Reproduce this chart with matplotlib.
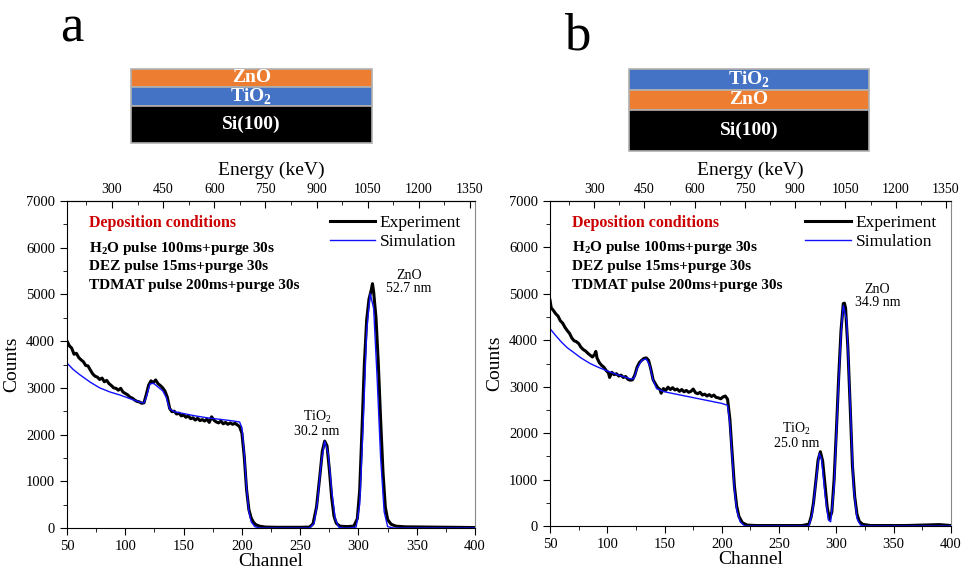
import matplotlib
matplotlib.use("Agg")
from matplotlib import pyplot as plt
from matplotlib.patches import Rectangle
from matplotlib.ticker import MultipleLocator, FixedLocator

plt.rcParams['font.family'] = ['Liberation Serif', 'DejaVu Serif']
plt.rcParams['mathtext.fontset'] = 'custom'
plt.rcParams['mathtext.rm'] = 'Liberation Serif'
plt.rcParams['mathtext.bf'] = 'Liberation Serif:bold'

# ---- panel a: ZnO / TiO2 / Si ----
exp_a_ch = [50, 52, 54, 56, 58, 60, 62, 64, 66, 68, 70, 72, 74, 76, 78, 80, 82, 84, 86, 88,
            90, 92, 94, 96, 98, 100, 102, 104, 106, 108, 110, 112, 114, 116, 118, 120, 122,
            124, 126, 128, 130, 132, 134, 136, 138, 140, 142, 144, 146, 148, 150, 152, 154,
            156, 158, 160, 162, 164, 166, 168, 170, 172, 174, 176, 178, 180, 182, 184, 186,
            188, 190, 192, 194, 196, 198, 200, 202, 204, 206, 208, 210, 212, 215, 220, 230,
            240, 250, 258, 261, 264, 267, 269, 271, 273, 275, 277, 279, 281, 284, 290, 296,
            299, 301, 303, 305, 307, 309, 311, 312, 313, 315, 317, 319, 321, 323, 325, 328,
            332, 340, 360, 380, 400]
exp_a = [4000, 3900, 3850, 3720, 3740, 3650, 3600, 3560, 3480, 3470, 3380, 3300, 3250, 3230,
         3180, 3210, 3130, 3160, 3090, 3050, 3000, 2990, 2950, 2990, 2910, 2880, 2850, 2800,
         2780, 2740, 2710, 2700, 2670, 2680, 2860, 3060, 3150, 3110, 3170, 3090, 3050, 3000,
         2930, 2800, 2560, 2490, 2500, 2440, 2460, 2400, 2420, 2370, 2400, 2340, 2360, 2310,
         2350, 2300, 2320, 2290, 2330, 2260, 2380, 2310, 2270, 2250, 2290, 2230, 2260, 2220,
         2250, 2220, 2240, 2210, 2170, 2030, 1530, 820, 390, 210, 120, 70, 40, 20, 15, 15,
         15, 20, 90, 450, 1150, 1650, 1860, 1760, 1250, 650, 250, 100, 40, 30, 40, 200, 800,
         2100, 3500, 4450, 4900, 5100, 5230, 5050, 4500, 3520, 2300, 1200, 450, 180, 80, 40,
         25, 20, 15, 10]

sim_a_ch = [50, 55, 61, 70, 78, 87, 95, 105, 113, 116, 118, 121, 124, 128, 132, 135, 138,
            142, 150, 160, 170, 180, 190, 198, 200, 202, 204, 206, 208, 211, 215, 258, 262,
            265, 268, 271, 274, 277, 280, 283, 287, 292, 298, 301, 304, 307, 310, 313, 316,
            319, 322, 325, 330, 400]
sim_a = [3530, 3400, 3280, 3120, 3000, 2910, 2850, 2760, 2690, 2680, 2800, 3080, 3100, 3020,
         2940, 2800, 2550, 2490, 2450, 2400, 2360, 2330, 2300, 2270, 2150, 1600, 850, 350,
         130, 30, 0, 0, 100, 600, 1400, 1860, 1600, 800, 200, 20, 0, 0, 20, 500, 2200, 4200,
         5020, 4700, 3200, 1500, 350, 30, 0, 0]

# ---- panel b: TiO2 / ZnO / Si ----
exp_b_ch = [50, 51, 53, 55, 57, 59, 61, 63, 65, 67, 69, 71, 73, 75, 77, 79, 81, 83, 85, 87,
            89, 90, 91, 93, 95, 97, 99, 101, 102, 104, 106, 108, 110, 112, 114, 116, 118, 120,
            122, 124, 126, 128, 130, 132, 134, 136, 138, 140, 142, 144, 146, 147, 149, 151,
            153, 155, 157, 159, 161, 163, 165, 167, 169, 171, 173, 175, 177, 179, 181, 183,
            185, 187, 189, 191, 193, 195, 197, 199, 201, 203, 205, 207, 209, 211, 213, 215,
            218, 222, 230, 250, 270, 276, 278, 280, 282, 284, 286, 288, 290, 292, 294, 296,
            298, 300, 302, 304, 306, 307, 308, 310, 312, 314, 316, 318, 320, 323, 330, 360,
            390, 400]
exp_b = [4860, 4700, 4640, 4570, 4520, 4420, 4370, 4280, 4210, 4150, 4050, 3990, 3970, 3930,
         3850, 3800, 3770, 3720, 3680, 3640, 3700, 3760, 3620, 3520, 3460, 3420, 3350, 3300,
         3200, 3310, 3260, 3280, 3230, 3250, 3200, 3220, 3160, 3140, 3150, 3250, 3420, 3520,
         3570, 3610, 3620, 3570, 3380, 3150, 3060, 2980, 2940, 2860, 2960, 2920, 2990, 2940,
         2980, 2930, 2950, 2900, 2940, 2890, 2920, 2880, 2900, 2950, 2870, 2850, 2880, 2820,
         2840, 2800, 2830, 2790, 2820, 2770, 2760, 2740, 2780, 2800, 2730, 2300, 1560, 850,
         420, 200, 70, 20, 10, 10, 10, 40, 200, 500, 950, 1420, 1600, 1400, 900, 400, 150,
         300, 1000, 2060, 3200, 4200, 4790, 4800, 4700, 3850, 2600, 1300, 630, 250, 100, 35,
         10, 10, 30, 10]

sim_b_ch = [50, 55, 60, 65, 70, 77, 85, 92, 100, 110, 120, 123, 126, 130, 134, 137, 140, 143,
            150, 160, 170, 180, 190, 200, 205, 207, 209, 211, 213, 216, 220, 276, 279, 282,
            285, 287, 290, 293, 295, 298, 301, 304, 306, 309, 312, 315, 318, 321, 325, 400]
sim_b = [4250, 4100, 3960, 3840, 3750, 3620, 3500, 3420, 3340, 3250, 3170, 3170, 3390, 3570,
         3600, 3460, 3140, 2960, 2890, 2840, 2790, 2740, 2690, 2640, 2600, 2200, 1490, 770,
         340, 90, 0, 0, 270, 920, 1560, 1450, 700, 130, 90, 830, 2560, 4140, 4750, 4430, 2640,
         830, 160, 20, 0, 0]

energy_ticks = [300, 450, 600, 750, 900, 1050, 1200, 1350]
energy_minor = [225, 375, 525, 675, 825, 975, 1125, 1275]

conditions = ["H$_\\mathbf{2}$O pulse 100ms+purge 30s",
              "DEZ pulse 15ms+purge 30s",
              "TDMAT pulse 200ms+purge 30s"]


def ch_to_e(c):
    return 3.42 * c - 3


def e_to_ch(e):
    return (e + 3) / 3.42


def draw_panel(ax, ech, ev, sch, sv, zno_xy, tio_xy, zno_nm, tio_nm):
    ax.plot(ech, ev, color='black', lw=2.2, label='Experiment')
    ax.plot(sch, sv, color='#1010ff', lw=1.0, label='Simulation')
    ax.set_xlim(50, 400)
    ax.set_ylim(0, 7000)
    ax.xaxis.set_major_locator(MultipleLocator(50))
    ax.xaxis.set_minor_locator(MultipleLocator(25))
    ax.yaxis.set_major_locator(MultipleLocator(1000))
    ax.yaxis.set_minor_locator(MultipleLocator(500))
    ax.tick_params(which='both', direction='out', labelsize=10.5)
    ax.tick_params(which='major', length=5)
    ax.tick_params(which='minor', length=3)
    ax.spines['right'].set_color('#888888')
    ax.set_xlabel('Channel', fontsize=14, labelpad=0)
    ax.set_ylabel('Counts', fontsize=14, labelpad=4)

    top = ax.secondary_xaxis('top', functions=(ch_to_e, e_to_ch))
    top.xaxis.set_major_locator(FixedLocator(energy_ticks))
    top.xaxis.set_minor_locator(FixedLocator(energy_minor))
    top.tick_params(which='both', direction='in', labelsize=10)
    top.tick_params(which='major', length=5)
    top.tick_params(which='minor', length=3)
    top.set_xlabel('Energy (keV)', fontsize=14, labelpad=6)

    ax.text(69, 6520, 'Deposition conditions', color='#cc0000', fontsize=11.5,
            fontweight='bold', va='center')
    for i, t in enumerate(conditions):
        ax.text(69, 5990 - i * 400, t, fontsize=11, fontweight='bold', va='center')

    ax.legend(loc='upper right', bbox_to_anchor=(1.0, 1.0), frameon=False, fontsize=12.5,
              handlelength=2.6, handletextpad=0.3, labelspacing=0.15, borderaxespad=0.4)

    ax.text(zno_xy[0], zno_xy[1], 'ZnO\n' + zno_nm, fontsize=10, ha='center', va='center',
            linespacing=1.0)
    ax.text(tio_xy[0], tio_xy[1], 'TiO$_2$\n' + tio_nm, fontsize=10, ha='center',
            va='center', linespacing=1.0)


def draw_stack(fig, x0, w, layers):
    # layers: list of (bottom, top, colour, label) in figure fractions, top to bottom
    for y0, y1, col, lab in layers:
        fig.patches.append(Rectangle((x0, y0), w, y1 - y0, transform=fig.transFigure,
                                     facecolor=col, edgecolor='#b0b0b0', lw=1.2))
        fig.text(x0 + w / 2, (y0 + y1) / 2, lab, color='white', fontsize=14,
                 fontweight='bold', ha='center', va='center')


fig = plt.figure(figsize=(9.66, 5.72), dpi=100)
ax_a = fig.add_axes([0.0694, 0.0769, 0.4224, 0.5717])
ax_b = fig.add_axes([0.5694, 0.0804, 0.4150, 0.5682])

draw_panel(ax_a, exp_a_ch, exp_a, sim_a_ch, sim_a, (343, 5270), (264.5, 2250),
           '52.7 nm', '30.2 nm')
draw_panel(ax_b, exp_b_ch, exp_b, sim_b_ch, sim_b, (336, 4950), (265, 1950),
           '34.9 nm', '25.0 nm')

H = 572.0
draw_stack(fig, 131 / 966, 241 / 966, [
    (1 - 87 / H, 1 - 69 / H, '#ED7D31', 'ZnO'),
    (1 - 106 / H, 1 - 87 / H, '#4472C4', 'TiO$_\\mathbf{2}$'),
    (1 - 143 / H, 1 - 106 / H, 'black', 'Si(100)'),
])
draw_stack(fig, 629 / 966, 240 / 966, [
    (1 - 90 / H, 1 - 69 / H, '#4472C4', 'TiO$_\\mathbf{2}$'),
    (1 - 110 / H, 1 - 90 / H, '#ED7D31', 'ZnO'),
    (1 - 151 / H, 1 - 110 / H, 'black', 'Si(100)'),
])

fig.text(72 / 966, 1 - 41 / H, 'a', fontsize=38, ha='center', va='baseline')
fig.text(577 / 966, 1 - 50 / H, 'b', fontsize=38, ha='center', va='baseline')

fig.savefig('out.png', dpi=100)
